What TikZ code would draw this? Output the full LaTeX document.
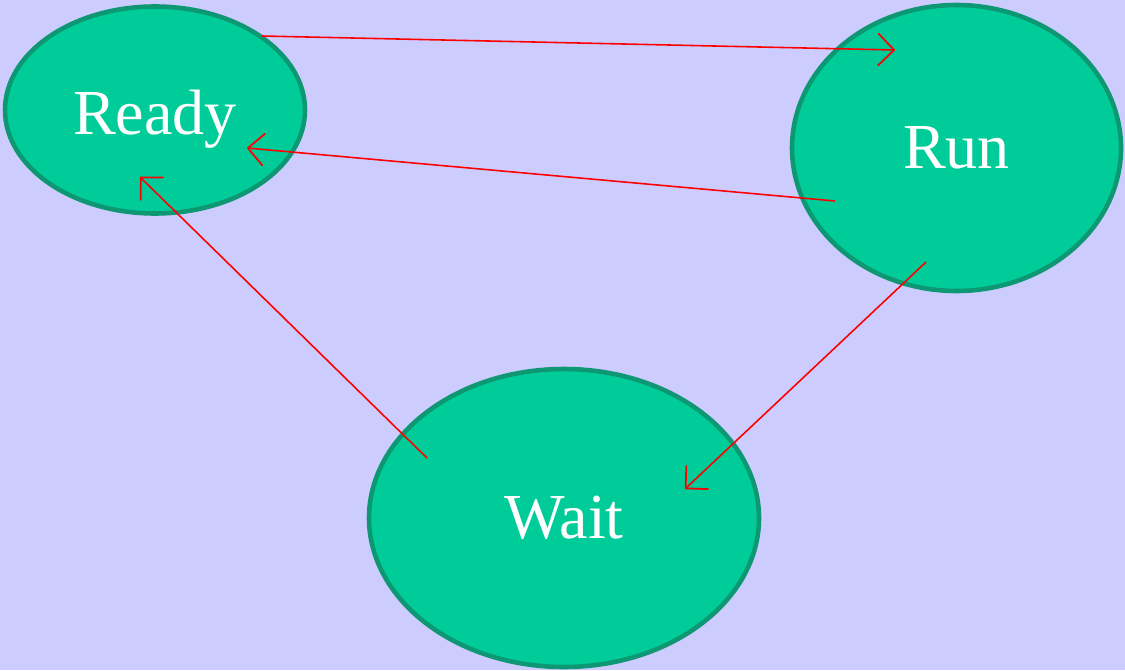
\documentclass[tikz,border=0pt]{standalone}
\usepackage{fontspec}
\setmainfont{Liberation Serif}
\usetikzlibrary{arrows.meta,shapes.geometric}
\definecolor{Lavender}{HTML}{CCCCFF}
\definecolor{Mint}{HTML}{00CC99}
\definecolor{MintEdge}{HTML}{0E9773}
\definecolor{Flow}{HTML}{FF0000}

\tikzset{
  state/.style={ellipse, fill=Mint, draw=MintEdge, line width=2.6pt, inner sep=0pt,
    text=white, font=\fontsize{36.5}{40}\selectfont},
  flow/.style={-{Straight Barb[round,length=9pt,width=18pt,line width=1pt]}, line width=0.9pt, color=Flow}
}

\begin{document}
\begin{tikzpicture}
    \fill[Lavender] (0,0) rectangle (22.5,-13.4);
    \useasboundingbox (0,0) rectangle (22.5,-13.4);
    \node[state, minimum width=6.0cm, minimum height=4.14cm, text height=1.25cm, text depth=0.25cm] (ready) at (3.1,-2.2) {Ready};
    \node[state, minimum width=6.58cm, minimum height=5.72cm] (run) at (19.13,-2.96) {Run};
    \node[state, minimum width=7.8cm, minimum height=5.96cm] (wait) at (11.28,-10.36) {Wait};
    \draw[flow] ([shift={(2.14,1.48)}]ready.center) -- ([shift={(-1.23,1.96)}]run.center);
    \draw[flow] ([shift={(-2.43,-1.06)}]run.center) -- ([shift={(1.84,-0.76)}]ready.center);
    \draw[flow] ([shift={(-2.74,1.2)}]wait.center) -- ([shift={(-0.3,-1.34)}]ready.center);
    \draw[flow] ([shift={(-0.61,-2.28)}]run.center) -- ([shift={(2.42,0.58)}]wait.center);
  \end{tikzpicture}
\end{document}
